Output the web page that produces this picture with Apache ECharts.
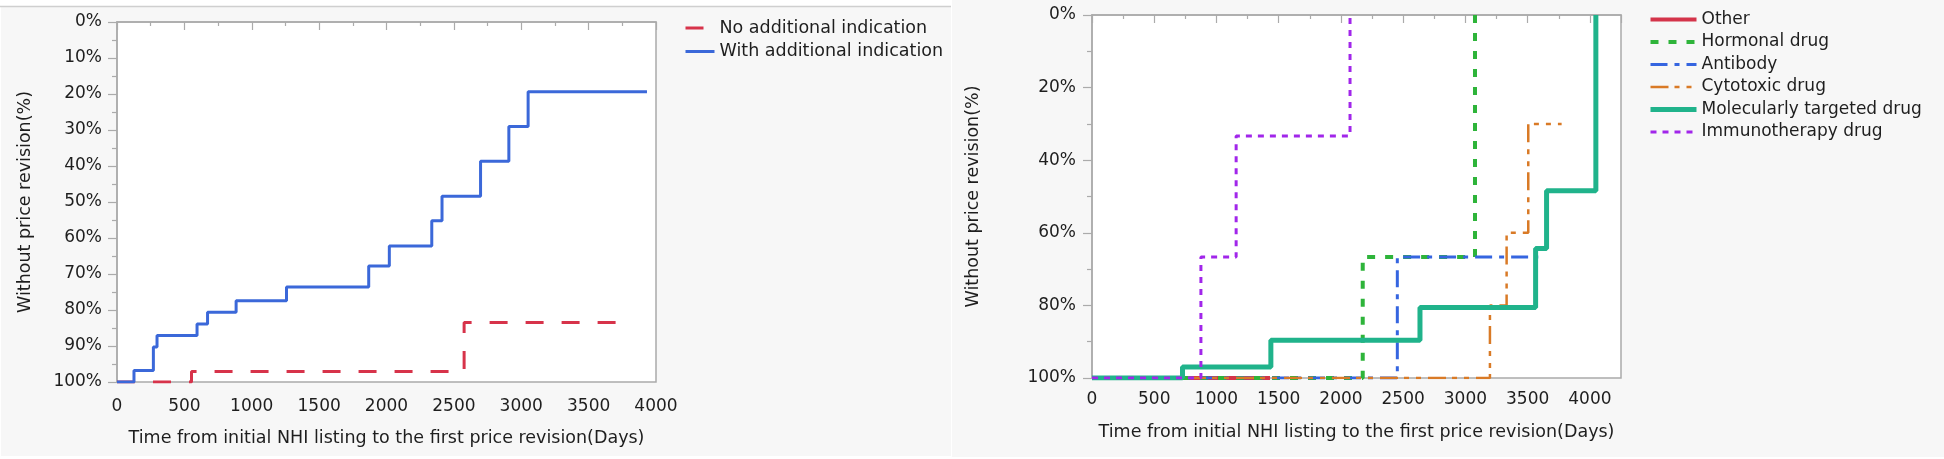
<!DOCTYPE html>
<html>
<head>
<meta charset="utf-8">
<script src="https://cdn.jsdelivr.net/npm/echarts@6/dist/echarts.min.js"></script>
<style>
html,body{margin:0;padding:0;background:#ffffff;}
#c{width:1944px;height:459px;}
</style>
</head>
<body>
<div id="c"></div>
<script>
// ---- Left chart data (days, % without price revision) ----
const noAddTimes   = [0, 553, 2576, 3740];
const noAddVals    = [100, 97.1, 83.5, 83.5];
const withAddTimes = [0, 126, 270, 297, 594, 672, 884, 1258, 1868, 2021, 2336, 2412, 2698, 2908, 3051, 3933];
const withAddVals  = [100, 96.8, 90.3, 87.1, 83.9, 80.6, 77.4, 73.6, 67.8, 62.2, 55.2, 48.4, 38.7, 29.0, 19.4, 19.4];

// ---- Right chart data ----
const otherTimes      = [0, 1430];
const otherVals       = [100, 100];
const hormonalTimes   = [0, 2175, 3077];
const hormonalVals    = [100, 66.7, 0];
const antibodyTimes   = [0, 2453, 3585];
const antibodyVals    = [100, 66.7, 66.7];
const cytotoxicTimes  = [0, 3197, 3331, 3505, 3773];
const cytotoxicVals   = [100, 80, 60, 30, 30];
const molecularTimes  = [0, 727, 1437, 2635, 3564, 3652, 4048];
const molecularVals   = [100, 97.0, 89.6, 80.6, 64.3, 48.4, 0];
const immunoTimes     = [0, 875, 1158, 2073];
const immunoVals      = [100, 66.7, 33.3, 0];

const leftNames  = ['No additional indication', 'With additional indication'];
const rightNames = ['Other', 'Hormonal drug', 'Antibody', 'Cytotoxic drug', 'Molecularly targeted drug', 'Immunotherapy drug'];
const xTitle = 'Time from initial NHI listing to the first price revision(Days)';
const yTitle = 'Without price revision(%)';

function pts(t, v) { return t.map((x, i) => [x, v[i]]); }

const FONT = 'DejaVu Sans';
const TXT = '#1e1e1e';
const AX = '#ababab';

// line styles (presentation only)
const ST = {
  noAdd:     { color: '#d7334a', width: 3,   type: [18, 18] },
  withAdd:   { color: '#3b68d9', width: 3,   type: 'solid' },
  other:     { color: '#d4344a', width: 4,   type: 'solid' },
  hormonal:  { color: '#2eb43a', width: 4,   type: [8, 10] },
  antibody:  { color: '#3565e0', width: 3,   type: [17, 7, 5, 7] },
  cytotoxic: { color: '#d97a26', width: 2.5, type: [18, 6, 5, 7, 5, 7] },
  molecular: { color: '#20b38b', width: 5,   type: 'solid' },
  immuno:    { color: '#a126ea', width: 3,   type: [6, 6] }
};

function mkX(gi, max, nameGap, labelMargin) {
  return {
    type: 'value', gridIndex: gi, min: 0, max: max, interval: 500,
    name: xTitle, nameLocation: 'middle', nameGap: nameGap,
    nameTextStyle: { fontFamily: FONT, fontSize: 17.5, color: TXT },
    axisLine: { show: true, lineStyle: { color: AX, width: 1.5 } },
    axisTick: { show: true, length: 8, lineStyle: { color: AX, width: 1.2 } },
    minorTick: { show: true, splitNumber: 2, length: 4, lineStyle: { color: AX, width: 1.2 } },
    splitLine: { show: false },
    axisLabel: { fontFamily: FONT, fontSize: 17, color: TXT, margin: labelMargin, showMaxLabel: max === 4000,
      formatter: function (v) { return String(v); } }
  };
}
function mkY(gi, interval, nameGap, labelMargin) {
  return {
    type: 'value', gridIndex: gi, min: 0, max: 100, interval: interval, inverse: true,
    name: yTitle, nameLocation: 'middle', nameGap: nameGap, nameRotate: 90,
    nameTextStyle: { fontFamily: FONT, fontSize: 17.5, color: TXT },
    axisLine: { show: true, lineStyle: { color: AX, width: 1.5 } },
    axisTick: { show: true, length: 9, lineStyle: { color: AX, width: 1.2 } },
    minorTick: { show: true, splitNumber: 2, length: 5, lineStyle: { color: AX, width: 1.2 } },
    splitLine: { show: false },
    axisLabel: { fontFamily: FONT, fontSize: 17, color: TXT, margin: labelMargin, formatter: '{value}%' }
  };
}
function mkLine(name, gi, data, st, z) {
  return {
    name: name, type: 'line', xAxisIndex: gi, yAxisIndex: gi, step: 'end',
    data: data, symbol: 'none', showSymbol: false, z: z,
    lineStyle: { color: st.color, width: st.width, type: st.type, cap: 'butt' },
    itemStyle: { color: st.color },
    animation: false
  };
}
function legItem(name, st) {
  return { name: name, lineStyle: { color: st.color, width: st.width, type: st.type, cap: 'butt' } };
}
const hiddenSymbol = { color: 'transparent', borderColor: 'transparent', borderWidth: 0, opacity: 0 };

const chart = echarts.init(document.getElementById('c'), null, { renderer: 'canvas' });
chart.setOption({
  animation: false,
  backgroundColor: '#ffffff',
  graphic: [
    { type: 'rect', z: -100, shape: { x: 1, y: 7, width: 950, height: 449 }, style: { fill: '#f7f7f7' } },
    { type: 'line', z: -99, shape: { x1: 0, y1: 6.5, x2: 951, y2: 6.5 }, style: { stroke: '#cfcfcf', lineWidth: 1.5 } },
    { type: 'rect', z: -100, shape: { x: 952, y: 0, width: 992, height: 457 }, style: { fill: '#f7f7f7' } }
  ],
  grid: [
    { left: 117, top: 22, width: 539, height: 360, show: true, backgroundColor: '#ffffff', borderColor: AX, borderWidth: 1.5 },
    { left: 1092, top: 15, width: 529, height: 363, show: true, backgroundColor: '#ffffff', borderColor: AX, borderWidth: 1.5 }
  ],
  xAxis: [mkX(0, 4000, 47, 16), mkX(1, 4250, 45, 13)],
  yAxis: [mkY(0, 10, 83, 15), mkY(1, 20, 110, 16)],
  legend: [
    {
      data: [legItem(leftNames[0], ST.noAdd), legItem(leftNames[1], ST.withAdd)],
      orient: 'vertical', left: 679, top: 14,
      itemWidth: 29, itemHeight: 14, itemGap: 5.5,
      itemStyle: hiddenSymbol,
      textStyle: { fontFamily: FONT, fontSize: 17.5, color: TXT },
      selectedMode: false
    },
    {
      data: [legItem(rightNames[0], ST.other), legItem(rightNames[1], ST.hormonal), legItem(rightNames[2], ST.antibody),
             legItem(rightNames[3], ST.cytotoxic), legItem(rightNames[4], ST.molecular), legItem(rightNames[5], ST.immuno)],
      orient: 'vertical', left: 1643, top: 6,
      itemWidth: 46, itemHeight: 14, itemGap: 5.5,
      itemStyle: hiddenSymbol,
      textStyle: { fontFamily: FONT, fontSize: 17, color: TXT },
      selectedMode: false
    }
  ],
  series: [
    mkLine(leftNames[0], 0, pts(noAddTimes, noAddVals), ST.noAdd, 2),
    mkLine(leftNames[1], 0, pts(withAddTimes, withAddVals), ST.withAdd, 3),
    mkLine(rightNames[0], 1, pts(otherTimes, otherVals), ST.other, 2),
    mkLine(rightNames[1], 1, pts(hormonalTimes, hormonalVals), ST.hormonal, 3),
    mkLine(rightNames[2], 1, pts(antibodyTimes, antibodyVals), ST.antibody, 4),
    mkLine(rightNames[3], 1, pts(cytotoxicTimes, cytotoxicVals), ST.cytotoxic, 5),
    mkLine(rightNames[4], 1, pts(molecularTimes, molecularVals), ST.molecular, 6),
    mkLine(rightNames[5], 1, pts(immunoTimes, immunoVals), ST.immuno, 7)
  ]
});
</script>
</body>
</html>
